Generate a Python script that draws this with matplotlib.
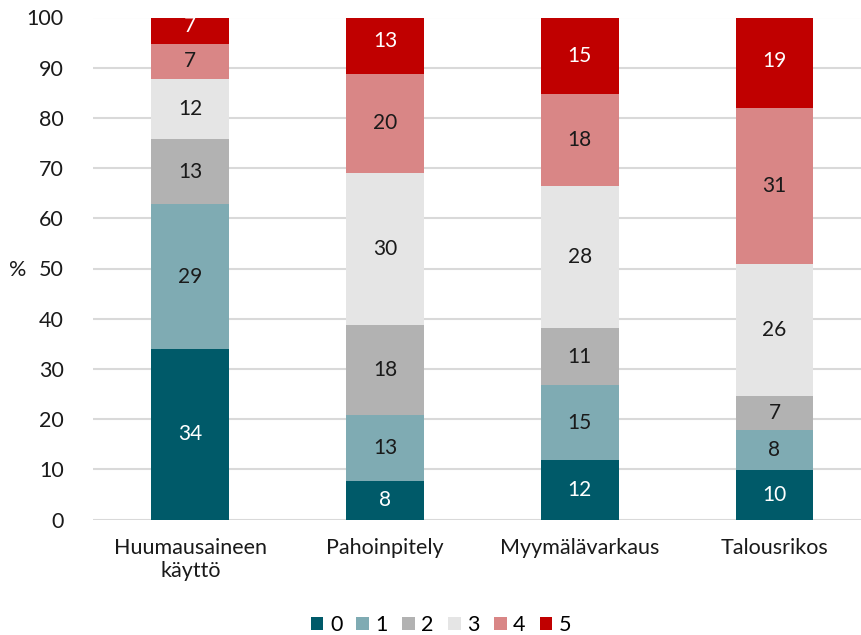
import matplotlib
matplotlib.use("Agg")
import matplotlib.pyplot as plt
import numpy as np

plt.rcParams['font.family'] = ['Lato', 'DejaVu Sans']

categories = ["Huumausaineen\nkäyttö", "Pahoinpitely", "Myymälävarkaus", "Talousrikos"]
series_names = ["0", "1", "2", "3", "4", "5"]
values = {
    "0": [33.9, 7.6, 11.8, 9.8],
    "1": [28.9, 13.2, 15.0, 8.0],
    "2": [12.9, 17.9, 11.3, 6.9],
    "3": [12.0, 30.3, 28.3, 26.2],
    "4": [7.1, 19.8, 18.4, 31.0],
    "5": [7.0, 13.0, 15.2, 19.0],
}
colors = {"0": "#005A69", "1": "#7FABB3", "2": "#B2B2B2",
          "3": "#E5E5E5", "4": "#D98686", "5": "#C00000"}
label_colors = {"0": "white", "1": "#1a1a1a", "2": "#1a1a1a",
                "3": "#1a1a1a", "4": "#1a1a1a", "5": "white"}
yticks = [0, 10, 20, 30, 40, 50, 60, 70, 80, 90, 100]

fig = plt.figure(figsize=(8.62, 6.35), dpi=100)
ax = fig.add_axes([93/862, 1 - 519.5/635, 778.8/862, 502/635])

x = np.arange(len(categories))
bottom = np.zeros(len(categories))
handles = []
for s in series_names:
    v = np.array(values[s])
    bars = ax.bar(x, v, width=0.4, bottom=bottom, color=colors[s], label=s, zorder=3)
    handles.append(bars)
    for xi, vi, bi in zip(x, v, bottom):
        ax.text(xi, bi + vi / 2, f"{vi:.0f}", ha="center", va="center",
                color=label_colors[s], fontsize=15, zorder=4, clip_on=True)
    bottom += v

ax.set_ylim(0, 100)
ax.set_xlim(-0.5, len(categories) - 0.5)
ax.set_yticks(yticks)
ax.set_yticklabels([str(t) for t in yticks])
ax.set_xticks(x)
ax.set_xticklabels(categories)
ax.tick_params(axis="both", length=0, labelsize=15.5, colors="#1a1a1a")
ax.tick_params(axis="y", pad=21)
ax.tick_params(axis="x", pad=13)
ax.grid(axis="y", color="#D9D9D9", linewidth=1.5, zorder=0)
for sp in ax.spines.values():
    sp.set_visible(False)

fig.text(18/862, 1 - 270/635, "%", ha="center", va="center", fontsize=15.5, color="#1a1a1a")

leg = fig.legend(handles=handles, labels=series_names, loc="center",
                 bbox_to_anchor=(441/862, 1 - 625/635), ncol=6, frameon=False,
                 fontsize=15.5, handlelength=0.6, handleheight=0.6,
                 handletextpad=0.3, columnspacing=0.65)

fig.savefig("out.png", dpi=100)
